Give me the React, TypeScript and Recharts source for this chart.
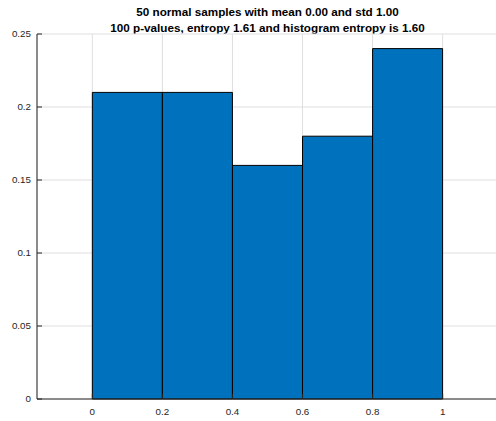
import { ComposedChart, Bar, XAxis, YAxis, CartesianGrid } from 'recharts';

const binCenters = [0.1, 0.3, 0.5, 0.7, 0.9];
const probabilities = [0.21, 0.21, 0.16, 0.18, 0.24];
const xTicks = [0, 0.2, 0.4, 0.6, 0.8, 1];
const yTicks = [0, 0.05, 0.1, 0.15, 0.2, 0.25];
const titleLines = [
  '50 normal samples with mean 0.00 and std 1.00',
  '100 p-values, entropy 1.61 and histogram entropy is 1.60',
];

const data = binCenters.map((c, i) => ({ center: c, p: probabilities[i] }));

const AXIS = '#262626';
const FONT = '"Liberation Sans", Arial, sans-serif';

const BottomTick = (props: any) => {
  const { x, y, payload } = props;
  return (
    <g>
      <line x1={x} x2={x} y1={y} y2={y - 5} stroke={AXIS} />
      <text x={x} y={y + 16} textAnchor="middle" fontSize={9.8} fill={AXIS} fontFamily={FONT}>
        {String(payload.value)}
      </text>
    </g>
  );
};

const TopTick = (props: any) => {
  const { x, y } = props;
  return <line x1={x} x2={x} y1={y} y2={y + 5} stroke={AXIS} />;
};

const LeftTick = (props: any) => {
  const { x, y, payload } = props;
  return (
    <g>
      <line x1={x} x2={x + 5} y1={y} y2={y} stroke={AXIS} />
      <text x={x - 6} y={y} dy="0.35em" textAnchor="end" fontSize={9.8} fill={AXIS} fontFamily={FONT}>
        {String(payload.value)}
      </text>
    </g>
  );
};

const RightTick = (props: any) => {
  const { x, y } = props;
  return <line x1={x} x2={x - 5} y1={y} y2={y} stroke={AXIS} />;
};

export default function App() {
  const domainX: [number, number] = [-0.158, 1.158];
  return (
    <div style={{ position: 'fixed', left: 0, top: 0, width: 496, height: 421, overflow: 'hidden', background: '#fff' }}>
      <div
        style={{
          position: 'absolute',
          left: 37,
          width: 461,
          top: 4,
          textAlign: 'center',
          fontFamily: FONT,
          fontWeight: 'bold',
          fontSize: 11.7,
          lineHeight: '15.5px',
          color: '#000',
        }}
      >
        {titleLines.map(t => (
          <div key={t}>{t}</div>
        ))}
      </div>
      <ComposedChart
        width={500}
        height={421}
        data={data}
        margin={{ top: 34, right: 2, bottom: 2, left: 7 }}
        barCategoryGap={0}
        barGap={0}
      >
        <CartesianGrid xAxisId="b" yAxisId="l" stroke="#dfdfdf" strokeWidth={1} />
        <XAxis
          xAxisId="b"
          dataKey="center"
          type="number"
          domain={domainX}
          allowDataOverflow
          ticks={xTicks}
          interval={0}
          height={20}
          tickSize={0}
          tickMargin={0}
          tickLine={false}
          axisLine={{ stroke: AXIS }}
          tick={<BottomTick />}
        />
        <XAxis
          xAxisId="t"
          orientation="top"
          type="number"
          domain={domainX}
          allowDataOverflow
          ticks={xTicks}
          interval={0}
          height={0}
          tickSize={0}
          tickMargin={0}
          tickLine={false}
          axisLine={{ stroke: AXIS }}
          tick={<TopTick />}
        />
        <YAxis
          yAxisId="l"
          type="number"
          domain={[0, 0.25]}
          ticks={yTicks}
          interval={0}
          width={30}
          tickSize={0}
          tickMargin={0}
          tickLine={false}
          axisLine={{ stroke: AXIS }}
          tick={<LeftTick />}
        />
        <YAxis
          yAxisId="r"
          orientation="right"
          type="number"
          domain={[0, 0.25]}
          ticks={yTicks}
          interval={0}
          width={0}
          tickSize={0}
          tickMargin={0}
          tickLine={false}
          axisLine={{ stroke: AXIS }}
          tick={<RightTick />}
        />
        <Bar
          xAxisId="b"
          yAxisId="l"
          dataKey="p"
          fill="#0072BD"
          stroke="#000"
          strokeWidth={1}
          isAnimationActive={false}
        />
      </ComposedChart>
    </div>
  );
}
